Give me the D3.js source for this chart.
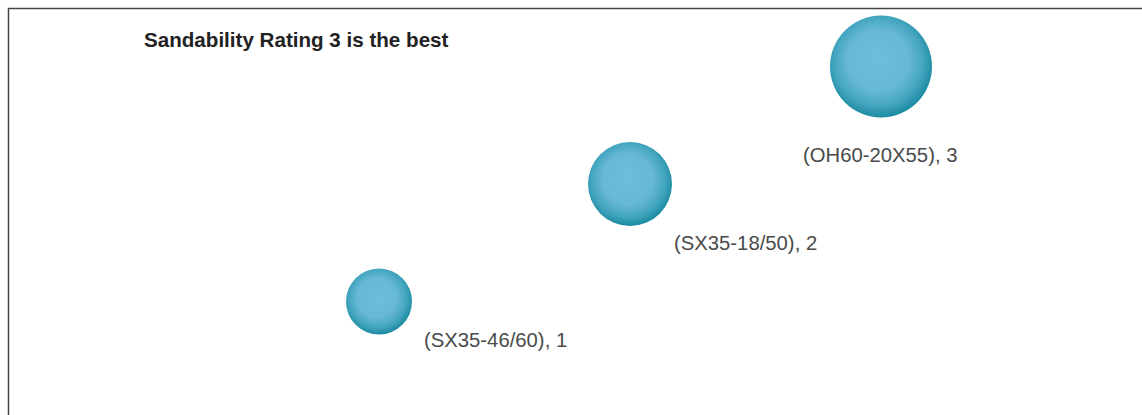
<!DOCTYPE html>
<html>
<head>
<meta charset="utf-8">
<script src="https://cdn.jsdelivr.net/npm/d3@7"></script>
<style>
  body { margin: 0; background: #fff; }
  svg { display: block; }
</style>
</head>
<body>
<script>
// chart data
var products = ["(SX35-46/60)", "(SX35-18/50)", "(OH60-20X55)"];
var ratings = [1, 2, 3];

// layout properties
var p = {
    width: 1142,
    height: 415,
    labelDx: [45, 44, -78],
    labelDy: [45.5, 65.5, 95.5],
    fontSize: 20.3,
    titleSize: 20.6,
};

var svg = d3.select("body").append("svg")
    .attr("width", p.width)
    .attr("height", p.height);

// bubble gradient: light centre, darker teal rim
var defs = svg.append("defs");
var grad = defs.append("radialGradient")
    .attr("id", "bubble")
    .attr("cx", "48%").attr("cy", "46%").attr("r", "55%")
    .attr("fx", "46%").attr("fy", "42%");
grad.append("stop").attr("offset", "0%").attr("stop-color", "#6ebedb");
grad.append("stop").attr("offset", "55%").attr("stop-color", "#66b8d4");
grad.append("stop").attr("offset", "80%").attr("stop-color", "#43a5bf");
grad.append("stop").attr("offset", "100%").attr("stop-color", "#17889d");

// frame (top and left edges visible)
svg.append("path")
    .attr("d", "M8.5," + p.height + "V8.5H" + p.width)
    .style("fill", "none")
    .style("stroke", "#444")
    .style("stroke-width", 1.5);

// scales
var x = d3.scaleLinear().domain([1, 3]).range([379, 881]);
var y = d3.scaleLinear().domain([1, 3]).range([301.5, 66.5]);
var r = d3.scaleLinear().domain([1, 3]).range([33, 51]);

var data = products.map(function(d, i) {
    return { name: d, rating: ratings[i], i: i };
});

svg.append("g").selectAll("circle")
    .data(data)
    .join("circle")
    .attr("cx", function(d) { return x(d.rating); })
    .attr("cy", function(d) { return y(d.rating); })
    .attr("r", function(d) { return r(d.rating); })
    .style("fill", "url(#bubble)");

svg.append("g").selectAll("text")
    .data(data)
    .join("text")
    .attr("x", function(d) { return x(d.rating) + p.labelDx[d.i]; })
    .attr("y", function(d) { return y(d.rating) + p.labelDy[d.i]; })
    .style("font-family", "'Liberation Sans', Arial, sans-serif")
    .style("font-size", p.fontSize + "px")
    .style("fill", "#4a4a4a")
    .text(function(d) { return d.name + ", " + d.rating; });

// title
svg.append("text")
    .attr("x", 144)
    .attr("y", 47)
    .style("font-family", "'Liberation Sans', Arial, sans-serif")
    .style("font-size", p.titleSize + "px")
    .style("font-weight", "bold")
    .style("fill", "#222")
    .text("Sandability Rating 3 is the best");
</script>
</body>
</html>
